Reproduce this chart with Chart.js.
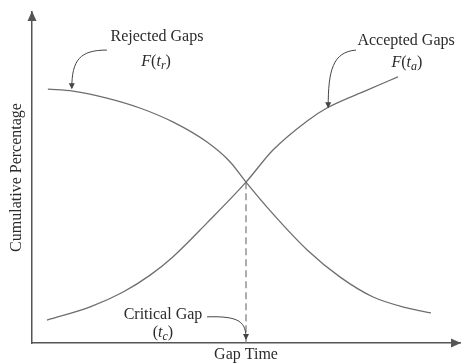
<!DOCTYPE html>
<html>
<head>
<meta charset="utf-8">
<script src="https://cdn.jsdelivr.net/npm/chart.js@4"></script>
<style>
  html, body { margin: 0; padding: 0; background: #fff; }
  #wrap { width: 462px; height: 363px; }
</style>
</head>
<body>
<div id="wrap"><canvas id="gapChart" width="462" height="363"></canvas></div>
<script>
// curve values (x = gap time, y = cumulative %)
const rejectedX = [3.7, 9.6, 17.5, 25.2, 32.9, 40.9, 46.3, 50.0, 56.3, 64.3, 72.0, 79.7, 87.6, 93.2];
const rejectedY = [76.7, 76.1, 74.0, 71.0, 66.8, 60.7, 54.7, 48.6, 39.0, 28.1, 19.9, 13.9, 10.6, 9.1];
const acceptedX = [3.5, 13.6, 21.3, 27.6, 32.9, 40.9, 50.0, 56.3, 64.3, 68.9, 78.3, 85.5];
const acceptedY = [6.9, 10.9, 15.4, 20.5, 26.0, 36.3, 48.6, 58.3, 67.1, 71.0, 76.4, 80.4];
const criticalX = 50.0;
const criticalY = 48.6;

const xTitle = 'Gap Time';
const yTitle = 'Cumulative Percentage';

const SERIF = '"Liberation Serif", "DejaVu Serif", serif';
const lineGrey = '#6e6e6e';
const textGrey = '#2b2b2b';

function toPoints(xs, ys) {
    return xs.map((x, i) => ({x: x, y: ys[i]}));
}

// annotations, in data units
const notes = [
    {
        lines: [
            [{t: 'Rejected Gaps'}],
            [{t: 'F', it: true}, {t: '('}, {t: 't', it: true}, {t: 'r', it: true, sub: true}, {t: ')'}]
        ],
        at: [[29.2, 92.4], [29.0, 84.9]],
        arrow: [[17.5, 88.5], [11.2, 88.5], [9.3, 85.5], [9.3, 77.0]]
    },
    {
        lines: [
            [{t: 'Accepted Gaps'}],
            [{t: 'F', it: true}, {t: '('}, {t: 't', it: true}, {t: 'a', it: true, sub: true}, {t: ')'}]
        ],
        at: [[87.4, 91.2], [87.6, 84.6]],
        arrow: [[75.7, 88.5], [70.3, 87.9], [69.2, 82.5], [69.2, 71.2]]
    },
    {
        lines: [
            [{t: 'Critical Gap'}],
            [{t: '('}, {t: 't', it: true}, {t: 'c', it: true, sub: true}, {t: ')'}]
        ],
        at: [[30.6, 8.5], [30.6, 3.0]],
        arrow: [[40.9, 7.9], [48.6, 8.2], [50.0, 6.3], [50.0, 1.2]]
    }
];

function runFont(r) {
    const size = r.sub ? 12 : 16;
    return (r.it ? 'italic ' : '') + size + 'px ' + SERIF;
}

function drawRuns(ctx, runs, cx, cy) {
    let total = 0;
    runs.forEach(r => { ctx.font = runFont(r); total += ctx.measureText(r.t).width; });
    let x = cx - total / 2;
    runs.forEach(r => {
        ctx.font = runFont(r);
        ctx.fillText(r.t, x, r.sub ? cy + 4 : cy);
        x += ctx.measureText(r.t).width;
    });
}

function arrowHead(ctx, tipX, tipY, angle, len, half) {
    ctx.save();
    ctx.translate(tipX, tipY);
    ctx.rotate(angle);
    ctx.beginPath();
    ctx.moveTo(0, 0);
    ctx.lineTo(-len, -half);
    ctx.lineTo(-len, half);
    ctx.closePath();
    ctx.fill();
    ctx.restore();
}

const decorPlugin = {
    id: 'decor',
    afterDraw(chart) {
        const ctx = chart.ctx;
        const xs = chart.scales.x, ys = chart.scales.y;
        const area = chart.chartArea;
        ctx.save();
        // axis arrow heads
        ctx.fillStyle = '#555';
        arrowHead(ctx, area.left, area.top - 1, -Math.PI / 2, 10, 4.5);
        arrowHead(ctx, area.right + 1, area.bottom, 0, 10, 4.5);

        ctx.textAlign = 'left';
        ctx.textBaseline = 'middle';
        notes.forEach(n => {
            ctx.fillStyle = textGrey;
            n.lines.forEach((runs, i) => {
                drawRuns(ctx, runs, xs.getPixelForValue(n.at[i][0]), ys.getPixelForValue(n.at[i][1]));
            });
            const p = n.arrow.map(q => [xs.getPixelForValue(q[0]), ys.getPixelForValue(q[1])]);
            ctx.strokeStyle = '#444';
            ctx.lineWidth = 1;
            ctx.setLineDash([]);
            ctx.beginPath();
            ctx.moveTo(p[0][0], p[0][1]);
            ctx.bezierCurveTo(p[1][0], p[1][1], p[2][0], p[2][1], p[3][0], p[3][1]);
            ctx.stroke();
            ctx.fillStyle = '#444';
            const ang = Math.atan2(p[3][1] - p[2][1], p[3][0] - p[2][0]);
            arrowHead(ctx, p[3][0], p[3][1] + 1, ang, 6, 3);
        });
        ctx.restore();
    }
};

const ctx = document.getElementById('gapChart').getContext('2d');
const gapChart = new Chart(ctx, {
    type: 'line',
    data: {
        datasets: [
            {
                label: 'Rejected Gaps',
                data: toPoints(rejectedX, rejectedY),
                borderColor: lineGrey,
                borderWidth: 1.3,
                pointRadius: 0,
                cubicInterpolationMode: 'monotone'
            },
            {
                label: 'Accepted Gaps',
                data: toPoints(acceptedX, acceptedY),
                borderColor: lineGrey,
                borderWidth: 1.3,
                pointRadius: 0,
                cubicInterpolationMode: 'monotone'
            },
            {
                label: 'Critical Gap',
                data: [{x: criticalX, y: criticalY}, {x: criticalX, y: 0}],
                borderColor: '#777',
                borderWidth: 1.2,
                borderDash: [7, 4],
                pointRadius: 0
            }
        ]
    },
    options: {
        responsive: false,
        animation: false,
        layout: {
            padding: {left: 2, right: 2, top: 12, bottom: 0}
        },
        plugins: {
            legend: {display: false},
            tooltip: {enabled: false}
        },
        scales: {
            x: {
                type: 'linear',
                min: 0,
                max: 100,
                ticks: {display: false},
                grid: {display: false, drawTicks: false},
                border: {display: true, color: '#555', width: 1.5},
                title: {
                    display: true,
                    text: xTitle,
                    color: textGrey,
                    font: {family: SERIF, size: 16, lineHeight: 1},
                    padding: {top: 4, bottom: 0}
                }
            },
            y: {
                type: 'linear',
                min: 0,
                max: 100,
                ticks: {display: false},
                grid: {display: false, drawTicks: false},
                border: {display: true, color: '#555', width: 1.5},
                title: {
                    display: true,
                    text: yTitle,
                    color: textGrey,
                    font: {family: SERIF, size: 16, lineHeight: 1},
                    padding: {top: 6.5, bottom: 7.5}
                }
            }
        }
    },
    plugins: [decorPlugin]
});
</script>
</body>
</html>
